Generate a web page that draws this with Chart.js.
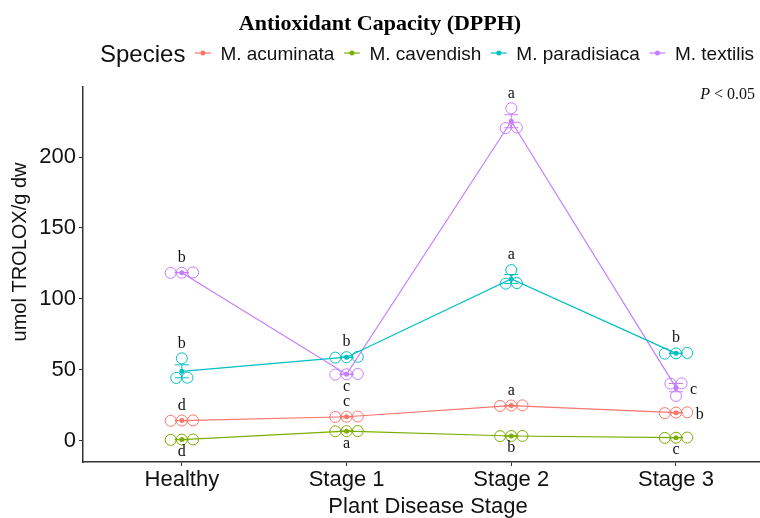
<!DOCTYPE html>
<html>
<head>
<meta charset="utf-8">
<script src="https://cdn.jsdelivr.net/npm/chart.js@4.4.1/dist/chart.umd.min.js"></script>
<style>
  html, body { margin: 0; padding: 0; background: #fff; overflow: hidden; }
  #wrap { width: 760px; height: 518px; }
</style>
</head>
<body>
<div id="wrap"><canvas id="myChart" width="760" height="518"></canvas></div>
<script>
const stages = ["Healthy", "Stage 1", "Stage 2", "Stage 3"];
const species = ["M. acuminata", "M. cavendish", "M. paradisiaca", "M. textilis"];
const yTicks = [0, 50, 100, 150, 200];

// three replicates per stage
const acuminataReps = [[14.4, 14.2, 14.5], [17.1, 16.9, 17.2], [25.0, 24.7, 25.1], [20.0, 19.6, 20.2]];
const cavendishReps = [[1.0, 0.8, 1.1], [6.8, 7.0, 6.9], [3.6, 3.4, 3.5], [2.2, 2.4, 2.3]];
const paradisiacaReps = [[58.2, 44.6, 44.4], [59.0, 58.7, 59.3], [120.4, 111.2, 110.8], [61.7, 62.0, 61.5]];
const textilisReps = [[118.5, 118.7, 118.4], [47.0, 47.2, 46.8], [234.3, 220.8, 220.4], [40.6, 40.4, 31.7]];

// significance letters
const acuminataLetters = ["d", "c", "a", "b"];
const cavendishLetters = ["d", "a", "b", "c"];
const paradisiacaLetters = ["b", "b", "a", "b"];
const textilisLetters = ["b", "c", "a", "c"];

const colors = ["#F8766D", "#7CAE00", "#00BFC4", "#C77CFF"];
const letterSide = [
  ["above", "above", "above", "right"],
  ["below", "below", "below", "below"],
  ["above", "above", "above", "above"],
  ["above", "below", "above", "right"],
];

const groups = [
  { name: species[0], reps: acuminataReps, letters: acuminataLetters },
  { name: species[1], reps: cavendishReps, letters: cavendishLetters },
  { name: species[2], reps: paradisiacaReps, letters: paradisiacaLetters },
  { name: species[3], reps: textilisReps, letters: textilisLetters },
];

const SANS = '"Liberation Sans", Arial, sans-serif';
const SERIF = '"Liberation Serif", "Times New Roman", serif';
const dotStep = 0.068;   // horizontal spacing of stacked dots (x units)
const binWidth = 4;      // values closer than this share a dot-plot bin

const mean = (a) => a.reduce((s, v) => s + v, 0) / a.length;
const stdErr = (a) => {
  const m = mean(a);
  const sd = Math.sqrt(a.reduce((s, v) => s + (v - m) ** 2, 0) / (a.length - 1));
  return sd / Math.sqrt(a.length);
};

// spreads replicates of the same bin side by side, like geom_dotplot centre stacking
function stackOffsets(vals) {
  const order = vals.map((v, i) => i).sort((a, b) => vals[a] - vals[b]);
  const bins = [];
  order.forEach((i) => {
    const last = bins[bins.length - 1];
    if (last && vals[i] - vals[last[0]] < binWidth) last.push(i);
    else bins.push([i]);
  });
  const off = [];
  bins.forEach((b) => b.forEach((i, k) => (off[i] = (k - (b.length - 1) / 2) * dotStep)));
  return { off, maxCount: Math.max(...bins.map((b) => b.length)) };
}

const datasets = [];
groups.forEach((g, gi) => {
  const dots = [];
  g.reps.forEach((r, i) => {
    const { off } = stackOffsets(r);
    r.forEach((v, k) => dots.push({ x: i + off[k], y: v }));
  });
  datasets.push({
    type: "line",
    label: g.name,
    data: g.reps.map((r, i) => ({ x: i, y: mean(r) })),
    borderColor: colors[gi],
    backgroundColor: colors[gi],
    borderWidth: 1.2,
    pointRadius: 2.5,
    pointBorderWidth: 0,
    tension: 0,
    order: 1,
  });
  datasets.push({
    type: "scatter",
    label: g.name + " reps",
    data: dots,
    borderColor: colors[gi],
    backgroundColor: "rgba(0,0,0,0)",
    borderWidth: 1,
    pointRadius: 5.5,
    order: 2,
  });
});

const decor = {
  id: "decor",
  afterDatasetsDraw(chart) {
    const { ctx, scales: { x, y } } = chart;
    ctx.save();
    ctx.lineWidth = 1;
    groups.forEach((g, gi) => {
      ctx.strokeStyle = colors[gi];
      g.reps.forEach((r, i) => {
        const m = mean(r), se = stdErr(r);
        const px = x.getPixelForValue(i);
        const top = y.getPixelForValue(m + se), bot = y.getPixelForValue(m - se);
        ctx.beginPath();
        ctx.moveTo(px, top); ctx.lineTo(px, bot);
        ctx.moveTo(px - 7, top); ctx.lineTo(px + 7, top);
        ctx.moveTo(px - 7, bot); ctx.lineTo(px + 7, bot);
        ctx.stroke();
      });
    });
    ctx.restore();
  },
  afterDraw(chart) {
    const { ctx, scales: { x, y } } = chart;
    ctx.save();

    // letters
    ctx.font = "16px " + SERIF;
    ctx.fillStyle = "#111";
    ctx.textBaseline = "middle";
    groups.forEach((g, gi) => {
      g.reps.forEach((r, i) => {
        const px = x.getPixelForValue(i);
        const side = letterSide[gi][i];
        if (side === "above") {
          ctx.textAlign = "center";
          ctx.fillText(g.letters[i], px, y.getPixelForValue(Math.max(...r)) - 15);
        } else if (side === "below") {
          ctx.textAlign = "center";
          ctx.fillText(g.letters[i], px, y.getPixelForValue(Math.min(...r)) + 12);
        } else {
          const { maxCount } = stackOffsets(r);
          const edge = px + ((maxCount - 1) / 2) * dotStep * (x.getPixelForValue(1) - x.getPixelForValue(0)) + 5.5;
          ctx.textAlign = "left";
          ctx.fillText(g.letters[i], edge + 3, y.getPixelForValue(mean(r)) + 2);
        }
      });
    });

    // P < 0.05
    ctx.textAlign = "left";
    ctx.font = "16px " + SERIF;
    const rest = " < 0.05";
    const wRest = ctx.measureText(rest).width;
    ctx.font = "italic 16px " + SERIF;
    const wP = ctx.measureText("P").width;
    const startX = 755 - wRest - wP;
    ctx.fillText("P", startX, 95);
    ctx.font = "16px " + SERIF;
    ctx.fillText(rest, startX + wP, 95);

    // legend
    const ly = 55;
    ctx.fillStyle = "#111";
    ctx.font = "24px " + SANS;
    ctx.fillText("Species", 100, ly);
    let cx = 100 + ctx.measureText("Species").width;
    ctx.font = "19px " + SANS;
    groups.forEach((g, gi) => {
      cx += 17.5;
      ctx.strokeStyle = colors[gi];
      ctx.lineWidth = 1.2;
      ctx.beginPath();
      ctx.moveTo(cx - 8, ly - 2); ctx.lineTo(cx + 8, ly - 2);
      ctx.stroke();
      ctx.fillStyle = colors[gi];
      ctx.beginPath();
      ctx.arc(cx, ly - 2, 2.5, 0, Math.PI * 2);
      ctx.fill();
      cx += 17.5;
      ctx.fillStyle = "#111";
      ctx.fillText(g.name, cx, ly);
      cx += ctx.measureText(g.name).width;
    });

    // axis titles
    ctx.font = "22px " + SANS;
    ctx.textAlign = "center";
    ctx.fillText("Plant Disease Stage", 428, 507);
    ctx.translate(20, 252);
    ctx.rotate(-Math.PI / 2);
    ctx.font = "20px " + SANS;
    ctx.fillText("umol TROLOX/g dw", 0, 0);
    ctx.restore();
  },
};

const axisStyle = {
  grid: { display: true, drawOnChartArea: false, drawTicks: true, tickLength: 4, color: "#333", lineWidth: 1 },
  border: { display: true, color: "#333", width: 1.5 },
};

const ctx = document.getElementById("myChart").getContext("2d");
new Chart(ctx, {
  data: { datasets: datasets },
  options: {
    responsive: false,
    animation: false,
    layout: { padding: 0, autoPadding: false },
    plugins: {
      legend: { display: false },
      tooltip: { enabled: false },
      title: {
        display: true,
        text: "Antioxidant Capacity (DPPH)",
        font: { family: SERIF, size: 22, weight: "bold" },
        color: "#000",
        padding: { top: 11, bottom: 49.6 },
      },
    },
    scales: {
      x: {
        type: "linear",
        min: -0.6,
        max: 3.51,
        afterBuildTicks: (s) => { s.ticks = stages.map((_, i) => ({ value: i })); },
        afterFit: (s) => { s.height = 56; s.paddingLeft = 0; s.paddingRight = 0; },
        ticks: {
          callback: (v) => stages[v],
          font: { family: SANS, size: 22 },
          color: "#111",
          padding: 1,
          maxRotation: 0,
          autoSkip: false,
        },
        ...axisStyle,
      },
      y: {
        type: "linear",
        min: -14.8,
        max: 249.3,
        afterBuildTicks: (s) => { s.ticks = yTicks.map((v) => ({ value: v })); },
        afterFit: (s) => { s.width = 83; },
        ticks: { font: { family: SANS, size: 22 }, color: "#111", padding: 3 },
        ...axisStyle,
      },
    },
  },
  plugins: [decor],
});
</script>
</body>
</html>
